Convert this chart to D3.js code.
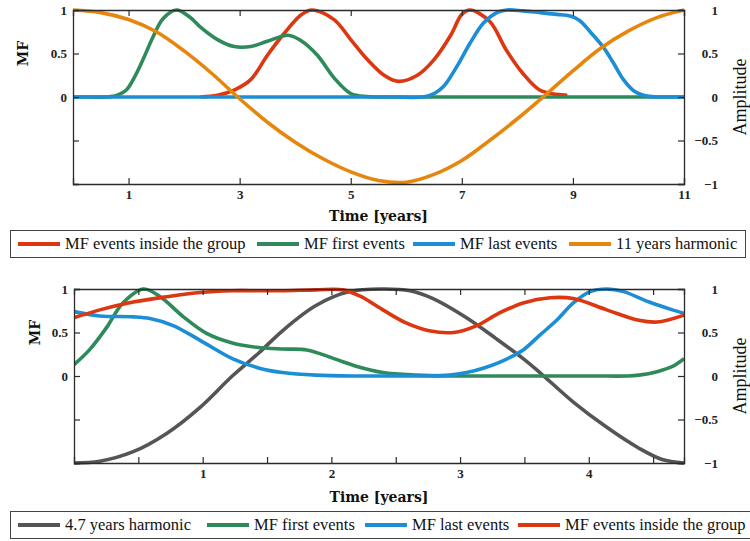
<!DOCTYPE html>
<html>
<head>
<meta charset="utf-8">
<script src="https://cdn.jsdelivr.net/npm/d3@7"></script>
<style>
  html, body { margin: 0; padding: 0; background: #fff; }
  svg { display: block; }
</style>
</head>
<body>
<svg id="chart" width="750" height="541"></svg>
<script>
// ---------------- DATA ----------------
// Top panel (11-year window)
const topRedT   = [2.3, 2.6, 2.9, 3.2, 3.5, 3.8, 4.1, 4.3, 4.7, 5.0, 5.3, 5.6, 5.85, 6.2, 6.5, 6.8, 7.0, 7.15, 7.5, 7.8, 8.1, 8.4, 8.7, 8.9];
const topRedV   = [0, 0.02, 0.08, 0.2, 0.48, 0.73, 0.94, 1.0, 0.89, 0.66, 0.43, 0.25, 0.18, 0.25, 0.43, 0.71, 0.95, 1.0, 0.87, 0.54, 0.27, 0.08, 0.03, 0.02];
const topGreenT = [0, 0.3, 0.6, 0.8, 0.96, 1.1, 1.26, 1.44, 1.62, 1.86, 2.1, 2.3, 2.6, 2.9, 3.2, 3.5, 3.87, 4.1, 4.4, 4.7, 5.0, 5.3, 5.6, 6, 7, 8, 9, 10, 11];
const topGreenV = [0, 0, 0, 0.02, 0.08, 0.22, 0.43, 0.69, 0.9, 1.0, 0.92, 0.8, 0.66, 0.58, 0.58, 0.64, 0.71, 0.65, 0.48, 0.22, 0.04, 0.005, 0, 0, 0, 0, 0, 0, 0];
const topBlueT  = [0, 1, 2, 3, 4, 5, 5.8, 6.3, 6.5, 6.67, 6.91, 7.15, 7.39, 7.63, 7.81, 8.1, 8.41, 8.71, 8.95, 9.12, 9.31, 9.55, 9.73, 9.91, 10.1, 10.34, 10.6, 10.8, 11];
const topBlueV  = [0, 0, 0, 0, 0, 0, 0, 0, 0.04, 0.12, 0.35, 0.62, 0.85, 0.97, 1.0, 0.99, 0.97, 0.95, 0.93, 0.88, 0.75, 0.57, 0.39, 0.2, 0.07, 0.01, 0, 0, 0];
const topOrangeT = [0, 0.5, 1, 1.5, 2, 2.5, 3, 3.5, 4, 4.5, 5, 5.5, 6, 6.5, 7, 7.5, 8, 8.5, 9, 9.5, 10, 10.5, 11];
const topOrangeV = [1.0, 0.97, 0.89, 0.75, 0.53, 0.27, -0.02, -0.29, -0.52, -0.71, -0.86, -0.96, -0.98, -0.89, -0.73, -0.5, -0.25, 0.02, 0.3, 0.56, 0.76, 0.91, 1.0];

const topXTicks = [1, 3, 5, 7, 9, 11];
const topLegend = ["MF events inside the group", "MF first events", "MF last events", "11 years harmonic"];

// Bottom panel (4.7-year window)
const botGrayT  = [0, 0.2, 0.46, 0.72, 0.98, 1.23, 1.44, 1.62, 1.88, 2.14, 2.4, 2.61, 2.79, 3.05, 3.28, 3.49, 3.62, 3.88, 4.14, 4.39, 4.57, 4.74];
const botGrayV  = [-1, -0.98, -0.87, -0.66, -0.36, 0.0, 0.27, 0.52, 0.81, 0.97, 1.0, 0.98, 0.89, 0.67, 0.43, 0.2, 0.04, -0.3, -0.59, -0.83, -0.96, -1.0];
const botGreenT = [0, 0.12, 0.25, 0.38, 0.54, 0.67, 0.85, 1.03, 1.23, 1.42, 1.62, 1.81, 2.02, 2.2, 2.4, 2.66, 2.92, 3.2, 3.5, 3.8, 4.05, 4.3, 4.39, 4.53, 4.65, 4.74];
const botGreenV = [0.13, 0.3, 0.55, 0.84, 1.0, 0.91, 0.68, 0.49, 0.38, 0.33, 0.31, 0.3, 0.2, 0.11, 0.04, 0.01, 0, 0, 0, 0, 0, 0, 0.01, 0.05, 0.11, 0.2];
const botBlueT  = [0, 0.2, 0.46, 0.59, 0.77, 0.98, 1.23, 1.44, 1.62, 1.88, 2.2, 2.45, 2.7, 2.92, 3.05, 3.18, 3.31, 3.49, 3.62, 3.75, 3.88, 4.01, 4.14, 4.27, 4.47, 4.65, 4.74];
const botBlueV  = [0.74, 0.69, 0.68, 0.66, 0.58, 0.41, 0.2, 0.09, 0.04, 0.01, 0, 0, 0, 0.01, 0.04, 0.09, 0.16, 0.3, 0.47, 0.64, 0.84, 0.97, 1.0, 0.97, 0.85, 0.76, 0.72];
const botRedT   = [0, 0.2, 0.46, 0.72, 0.98, 1.23, 1.44, 1.62, 1.88, 2.09, 2.22, 2.4, 2.58, 2.76, 2.95, 3.13, 3.3, 3.49, 3.7, 3.88, 4.14, 4.39, 4.53, 4.74];
const botRedV   = [0.67, 0.76, 0.85, 0.91, 0.96, 0.98, 0.98, 0.98, 0.99, 0.99, 0.92, 0.76, 0.61, 0.52, 0.5, 0.58, 0.72, 0.84, 0.9, 0.89, 0.76, 0.64, 0.62, 0.7];

const botXTicks = [0.5, 1, 1.5, 2, 2.5, 3, 3.5, 4, 4.5];
const botXLabels = [1, 2, 3, 4];
const botLegend = ["4.7 years harmonic", "MF first events", "MF last events", "MF events inside the group"];

const yTicks = [1, 0.5, 0, -0.5, -1];
const yLeftLabels = [1, 0.5, 0];

const COLORS = { red: "#dc3710", green: "#2e8a5a", blue: "#1c8ed6", orange: "#e6860c", gray: "#555555" };

// ---------------- DRAW ----------------
const svg = d3.select("#chart");
const tickFont = "'Liberation Serif', 'DejaVu Serif', serif";
const titleFont = "'DejaVu Serif', serif";
const legendFont = "'Liberation Serif', serif";
const axisColor = "#2b2b2b";

function zip(ts, vs) { return ts.map((t, i) => [t, vs[i]]); }

function panel(cfg) {
  const g = svg.append("g");
  const x = d3.scaleLinear().domain(cfg.xDomain).range([cfg.left, cfg.right]);
  const y = d3.scaleLinear().domain([-1, 1]).range([cfg.bottom, cfg.top]);

  const clipId = "clip" + cfg.id;
  svg.append("clipPath").attr("id", clipId).append("rect")
    .attr("x", cfg.left).attr("y", cfg.top - 3)
    .attr("width", cfg.right - cfg.left).attr("height", cfg.bottom - cfg.top + 6);

  const line = d3.line().x(d => x(d[0])).y(d => y(d[1])).curve(d3.curveCatmullRom.alpha(0.5));
  const lines = g.append("g").attr("clip-path", `url(#${clipId})`);
  cfg.series.forEach(s => {
    lines.append("path").datum(zip(s.t, s.v))
      .attr("fill", "none").attr("stroke", s.color)
      .attr("stroke-width", 3.6).attr("stroke-linejoin", "round")
      .attr("d", line);
  });

  // Axes (ticks inward, box)
  const tl = 6;
  const axB = d3.axisBottom(x).tickValues(cfg.xTicks).tickSize(-tl).tickPadding(8)
    .tickFormat(d => cfg.xLabels.includes(d) ? d3.format("")(d) : "");
  const axT = d3.axisTop(x).tickValues(cfg.xTicks).tickSize(-tl).tickFormat("");
  const axL = d3.axisLeft(y).tickValues(yTicks).tickSize(-tl).tickPadding(6)
    .tickFormat(d => yLeftLabels.includes(d) ? d3.format("")(d) : "");
  const axR = d3.axisRight(y).tickValues(yTicks).tickSize(-tl).tickPadding(34)
    .tickFormat(d3.format(""));

  const gB = g.append("g").attr("transform", `translate(0,${cfg.bottom})`).call(axB);
  const gT = g.append("g").attr("transform", `translate(0,${cfg.top})`).call(axT);
  const gL = g.append("g").attr("transform", `translate(${cfg.left},0)`).call(axL);
  const gR = g.append("g").attr("transform", `translate(${cfg.right},0)`).call(axR);
  [gB, gT, gL, gR].forEach(a => {
    a.select(".domain").attr("stroke", axisColor).attr("stroke-width", 1.3);
    a.selectAll(".tick line").attr("stroke", axisColor).attr("stroke-width", 1.2);
    a.selectAll("text").attr("font-family", tickFont).attr("font-weight", "bold")
      .attr("font-size", 13).attr("fill", "#222");
  });
  gR.selectAll("text").attr("text-anchor", "end");
  gB.selectAll("text").attr("dy", "0.55em");

  // Axis titles
  g.append("text").attr("transform", `translate(${cfg.mfX},${y(0.5)}) rotate(-90)`)
    .attr("text-anchor", "middle").attr("font-family", titleFont).attr("font-weight", "bold")
    .attr("font-size", 14).attr("fill", "#111").text("MF");
  g.append("text").attr("transform", `translate(746,${y(0)}) rotate(-90)`)
    .attr("text-anchor", "middle").attr("font-family", legendFont)
    .attr("font-size", 18).attr("fill", "#111").text("Amplitude");
  g.append("text").attr("x", (cfg.left + cfg.right) / 2).attr("y", cfg.timeY)
    .attr("text-anchor", "middle").attr("font-family", titleFont).attr("font-weight", "bold")
    .attr("font-size", 14).attr("fill", "#111").text("Time [years]");

  // Legend
  const lg = svg.append("g");
  lg.append("rect").attr("x", 10.5).attr("y", cfg.legY + 0.5)
    .attr("width", cfg.legW).attr("height", 27)
    .attr("fill", "#fff").attr("stroke", "#444").attr("stroke-width", 1);
  cfg.series.forEach((s, i) => {
    const lx = cfg.legX[i];
    lg.append("line").attr("x1", lx).attr("x2", lx + 42)
      .attr("y1", cfg.legY + 14).attr("y2", cfg.legY + 14)
      .attr("stroke", s.color).attr("stroke-width", 4);
    lg.append("text").attr("x", lx + 47).attr("y", cfg.legY + 19)
      .attr("font-family", legendFont).attr("font-size", 16.5).attr("fill", "#111")
      .text(cfg.legend[i]);
  });
}

panel({
  id: "top", xDomain: [0, 11], left: 73, right: 684, top: 10, bottom: 184,
  xTicks: topXTicks, xLabels: topXTicks, mfX: 28, timeY: 221,
  legY: 230, legW: 735, legX: [18, 257, 413, 569], legend: topLegend,
  series: [
    { t: topRedT, v: topRedV, color: COLORS.red },
    { t: topGreenT, v: topGreenV, color: COLORS.green },
    { t: topBlueT, v: topBlueV, color: COLORS.blue },
    { t: topOrangeT, v: topOrangeV, color: COLORS.orange }
  ]
});

panel({
  id: "bot", xDomain: [0, 4.74], left: 74, right: 684, top: 289, bottom: 463,
  xTicks: botXTicks, xLabels: botXLabels, mfX: 40, timeY: 502,
  legY: 511, legW: 740, legX: [18, 207, 365, 518], legend: botLegend,
  series: [
    { t: botGrayT, v: botGrayV, color: COLORS.gray },
    { t: botGreenT, v: botGreenV, color: COLORS.green },
    { t: botBlueT, v: botBlueV, color: COLORS.blue },
    { t: botRedT, v: botRedV, color: COLORS.red }
  ]
});
</script>
</body>
</html>
